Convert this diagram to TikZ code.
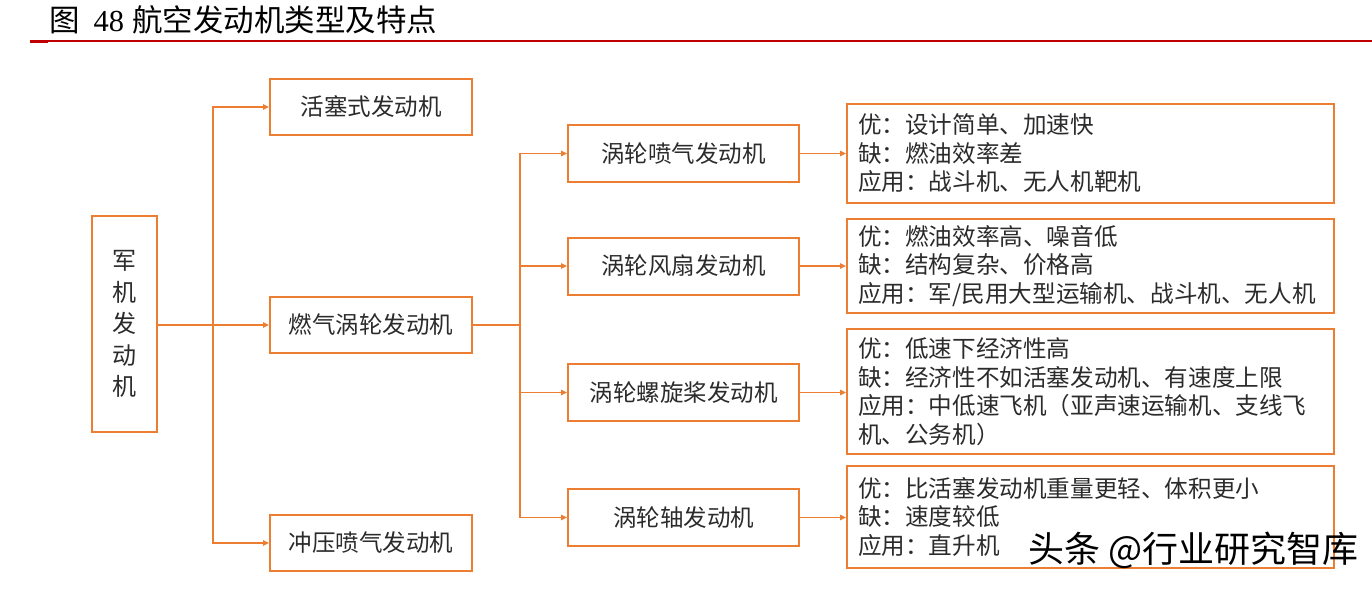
\documentclass[tikz,border=0pt]{standalone}
\usepackage{fontspec}
\setmainfont{Noto Sans CJK SC}
\newfontfamily\digitfont{Liberation Serif}
\usetikzlibrary{arrows.meta}
\definecolor{org}{HTML}{ED7D31}
\definecolor{txt}{HTML}{2B2B2B}
\definecolor{redline}{HTML}{C00000}
\begin{document}
\begin{tikzpicture}[x=1pt,y=-1pt,
  box/.style={draw=org, line width=2pt, text=txt, inner sep=0pt, font=\fontsize{23.5}{28}\selectfont},
  midbox/.style={box, minimum width=231pt, minimum height=57pt},
  leftbox/.style={box, minimum width=202pt, minimum height=56pt},
  infobox/.style={box, minimum width=487pt, text width=465pt, align=left, font=\fontsize{23.6}{28.5}\selectfont},
  conn/.style={draw=org, line width=1.2pt},
  arr/.style={conn, -{Triangle[length=6pt,width=5.5pt]}}
]
\useasboundingbox (0,0) rectangle (1372,590);
% title
\node[anchor=west, text=black, font=\fontsize{30.5}{32}\selectfont, inner sep=0pt] (title) at (49,20) {图\hspace{14pt}{\digitfont 48}\hspace{8pt}航空发动机类型及特点};
\draw[redline, line width=1.4pt] (30,41) -- (1372,41);
\fill[redline] (30,39.5) rectangle (48,43);
% root
\node[box, minimum width=65pt, minimum height=216pt, align=center, font=\fontsize{24}{31.5}\selectfont] (root) at (124.5,324) {军\\机\\发\\动\\机};
% level 1
\node[leftbox] (piston) at (371,107) {活塞式发动机};
\node[leftbox] (gas) at (371,325) {燃气涡轮发动机};
\node[leftbox] (ram) at (371,543) {冲压喷气发动机};
% level 2
\node[midbox] (tj) at (683.5,153.5) {涡轮喷气发动机};
\node[midbox] (tf) at (683.5,266) {涡轮风扇发动机};
\node[midbox] (tp) at (683.5,392.5) {涡轮螺旋桨发动机};
\node[midbox] (ts) at (683.5,517.5) {涡轮轴发动机};
% info
\node[infobox, minimum height=99pt] (i1) at (1090.5,153.5) {优：设计简单、加速快\\缺：燃油效率差\\应用：战斗机、无人机靶机};
\node[infobox, minimum height=94pt] (i2) at (1090.5,266) {优：燃油效率高、噪音低\\缺：结构复杂、价格高\\应用：军/民用大型运输机、战斗机、无人机};
\node[infobox, minimum height=125pt] (i3) at (1090.5,391.5) {优：低速下经济性高\\缺：经济性不如活塞发动机、有速度上限\\应用：中低速飞机（亚声速运输机、支线飞\\机、公务机）};
\node[infobox, minimum height=102pt] (i4) at (1090.5,517) {优：比活塞发动机重量更轻、体积更小\\缺：速度较低\\应用：直升机};
% connectors level 1
\coordinate (t1) at (213,325);
\draw[arr] (root.east |- gas.west) -- (gas.west);
\draw[arr] (t1) |- (piston.west);
\draw[arr] (t1) |- (ram.west);
% connectors level 2
\coordinate (t2) at (520,325);
\draw[conn] (gas.east) -- (t2);
\draw[arr] (t2) |- (tj.west);
\draw[arr] (t2) |- (tf.west);
\draw[arr] (t2) |- (tp.west);
\draw[arr] (t2) |- (ts.west);
% connectors to info
\draw[arr] (tj.east) -- (tj.east -| i1.west);
\draw[arr] (tf.east) -- (tf.east -| i2.west);
\draw[arr] (tp.east) -- (tp.east -| i3.west);
\draw[arr] (ts.east) -- (ts.east -| i4.west);
% watermark
\node[anchor=west, text=black, font=\fontsize{36}{38}\selectfont, inner sep=0pt] (wm) at (1028,550) {头条 @行业研究智库};
\end{tikzpicture}
\end{document}
